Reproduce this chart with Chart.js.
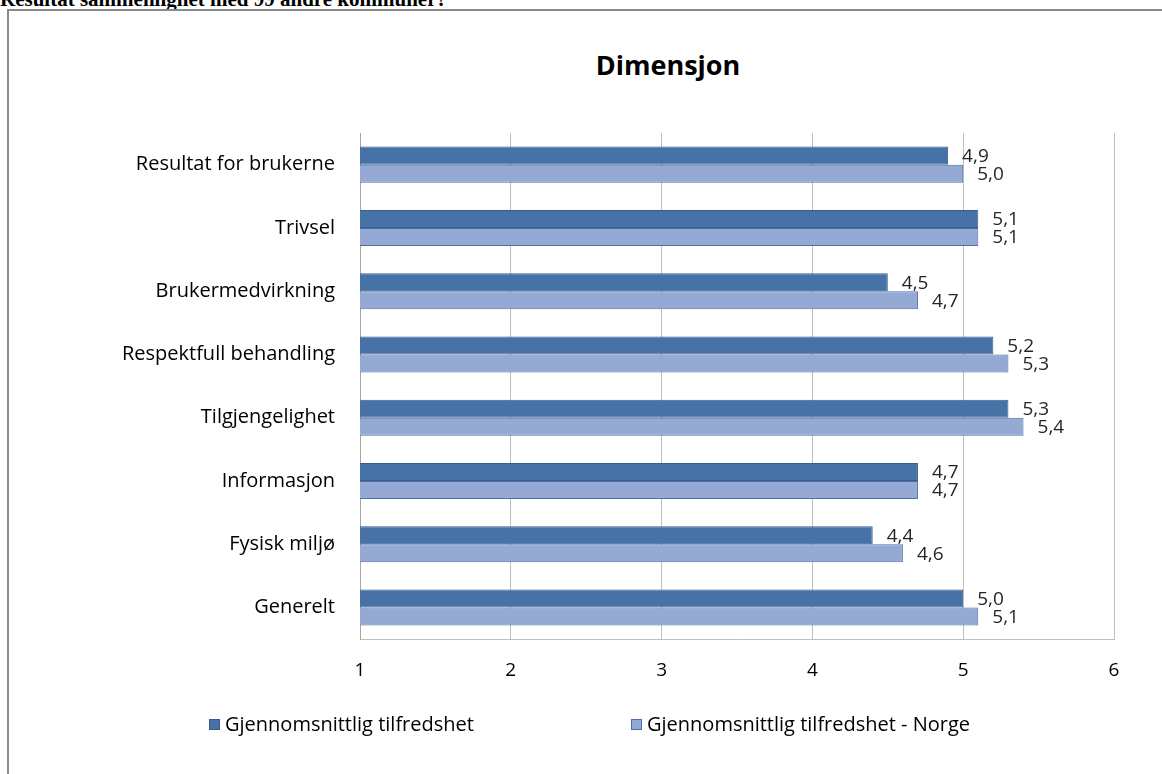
<!DOCTYPE html>
<html>
<head>
<meta charset="utf-8">
<script src="https://cdn.jsdelivr.net/npm/chart.js@4.4.0/dist/chart.umd.min.js"></script>
<style>
    body { margin: 0; background: #fff; width: 1162px; height: 774px; overflow: hidden; position: relative; }
    #heading { position: absolute; left: 0; top: -13px; font: bold 21px "Liberation Serif", serif; line-height: 24px; white-space: nowrap; }
    #frame { position: absolute; left: 7px; top: 9px; width: 1200px; height: 800px; border: 2px solid #8a8a8a; }
    #title { position: absolute; left: 0; width: 1336px; top: 46px; text-align: center; font: bold 27px "Open Sans", sans-serif; color: #000; }
    #wrap { position: absolute; left: 0; top: 0; width: 1162px; height: 774px; }
    #legend { position: absolute; top: 710px; left: 209px; font: 20px "Open Sans", sans-serif; color: #000; white-space: nowrap; }
    #legend span.item { position: absolute; top: 0; }
    #legend i { display: inline-block; width: 11px; height: 11px; margin-right: 5px; vertical-align: 1px; box-sizing: border-box; }
</style>
</head>
<body>
<div id="heading">Resultat sammenlignet med 99 andre kommuner?</div>
<div id="frame"></div>
<div id="title">Dimensjon</div>
<div id="wrap"><canvas id="dimChart"></canvas></div>
<div id="legend"></div>
<script>
// Dimensjoner i undersøkelsen
const categories = [
    "Resultat for brukerne",
    "Trivsel",
    "Brukermedvirkning",
    "Respektfull behandling",
    "Tilgjengelighet",
    "Informasjon",
    "Fysisk miljø",
    "Generelt"
];
const localValues = [4.9, 5.1, 4.5, 5.2, 5.3, 4.7, 4.4, 5.0];
const norwayValues = [5.0, 5.1, 4.7, 5.3, 5.4, 4.7, 4.6, 5.1];
const seriesNames = ["Gjennomsnittlig tilfredshet", "Gjennomsnittlig tilfredshet - Norge"];
const xTicks = [1, 2, 3, 4, 5, 6];

const fillColors = ["#4672A8", "#94A9D3"];
const edgeColors = ["#3A5E8C", "#4F6FA8"];
const labelFont = "19px 'Open Sans', sans-serif";

// Draw value labels just past the end of each bar
const valueLabels = {
    id: "valueLabels",
    afterDatasetsDraw(chart) {
        const ctx = chart.ctx;
        ctx.save();
        ctx.font = labelFont;
        ctx.fillStyle = "#262626";
        ctx.textBaseline = "middle";
        ctx.textAlign = "left";
        chart.data.datasets.forEach((ds, i) => {
            chart.getDatasetMeta(i).data.forEach((bar, j) => {
                const text = ds.data[j].toFixed(1).replace(".", ",");
                ctx.fillText(text, bar.x + 14, bar.y + 1);
            });
        });
        ctx.restore();
    }
};

const ctx = document.getElementById("dimChart").getContext("2d");
const chart = new Chart(ctx, {
    type: "bar",
    data: {
        labels: categories,
        datasets: seriesNames.map((name, i) => ({
            label: name,
            data: i === 0 ? localValues : norwayValues,
            backgroundColor: fillColors[i],
            borderColor: edgeColors[i],
            borderWidth: 1,
            borderSkipped: false,
            categoryPercentage: 0.57,
            barPercentage: 1.0
        }))
    },
    options: {
        indexAxis: "y",
        responsive: true,
        maintainAspectRatio: false,
        animation: false,
        layout: { padding: { top: 133, right: 48, bottom: 72, left: 0 } },
        scales: {
            x: {
                min: xTicks[0],
                max: xTicks[xTicks.length - 1],
                afterBuildTicks: axis => { axis.ticks = xTicks.map(v => ({ value: v })); },
                ticks: {
                    font: { family: "Open Sans", size: 19 },
                    color: "#000",
                    padding: 20,
                    callback: v => String(v)
                },
                grid: { color: "#BFBFBF", drawTicks: false },
                border: { color: "#BFBFBF" }
            },
            y: {
                afterFit: axis => { axis.width = 360; },
                ticks: {
                    font: { family: "Open Sans", size: 20 },
                    color: "#000",
                    padding: 25
                },
                grid: { display: false, drawTicks: false },
                border: { color: "#A6A6A6" }
            }
        },
        plugins: {
            legend: { display: false },
            tooltip: { enabled: false }
        }
    },
    plugins: [valueLabels]
});

// Legend below the chart, built from the dataset names and colours
const legend = document.getElementById("legend");
const legendOffsets = [0, 422];
chart.data.datasets.forEach((ds, i) => {
    const item = document.createElement("span");
    item.className = "item";
    item.style.left = legendOffsets[i] + "px";
    const box = document.createElement("i");
    box.style.background = ds.backgroundColor;
    box.style.border = "1px solid " + ds.borderColor;
    item.appendChild(box);
    item.appendChild(document.createTextNode(ds.label));
    legend.appendChild(item);
});
</script>
</body>
</html>
